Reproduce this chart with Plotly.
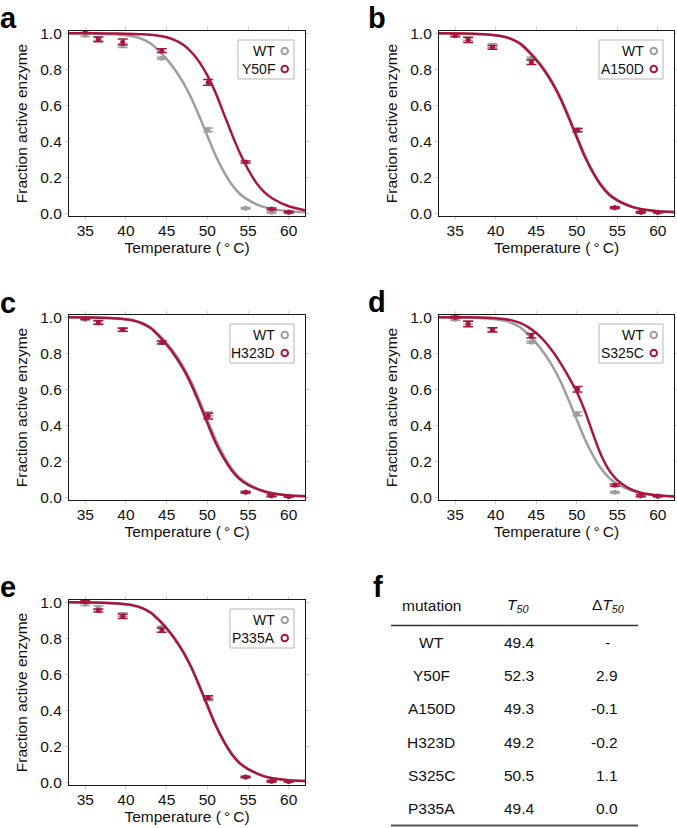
import plotly.graph_objects as go

# ---------------- data ----------------
temps = [35.0, 36.6, 39.6, 44.4, 50.1, 54.7, 57.9, 60.0]

wt_vals = [0.990, 0.970, 0.932, 0.862, 0.465, 0.031, 0.009, 0.006]
wt_err = [0.008, 0.010, 0.010, 0.006, 0.010, 0.004, 0.004, 0.003]

y50f_vals = [1.012, 0.967, 0.952, 0.904, 0.728, 0.287, 0.027, 0.010]
y50f_err = [0.008, 0.013, 0.016, 0.010, 0.016, 0.006, 0.005, 0.004]

a150d_vals = [0.987, 0.963, 0.922, 0.840, 0.463, 0.035, 0.009, 0.009]
a150d_err = [0.006, 0.014, 0.010, 0.012, 0.008, 0.004, 0.004, 0.003]

h323d_vals = [0.994, 0.972, 0.931, 0.861, 0.453, 0.031, 0.013, 0.007]
h323d_err = [0.004, 0.010, 0.008, 0.008, 0.016, 0.004, 0.006, 0.003]

s325c_vals = [1.000, 0.963, 0.931, 0.898, 0.602, 0.070, 0.013, 0.010]
s325c_err = [0.006, 0.015, 0.012, 0.012, 0.015, 0.006, 0.005, 0.003]

p335a_vals = [1.003, 0.955, 0.922, 0.846, 0.473, 0.033, 0.009, 0.008]
p335a_err = [0.006, 0.008, 0.012, 0.012, 0.010, 0.004, 0.004, 0.003]

# fitted curves
fit_t = [33, 36, 39, 41, 42, 43, 44, 45, 46, 47, 48, 49, 50, 51, 52, 53, 54, 55, 56, 57, 58, 60, 62]
wt_fit = [1.0, 0.999, 0.993, 0.982, 0.968, 0.945, 0.905, 0.857, 0.80, 0.73, 0.645, 0.542, 0.433, 0.325,
          0.235, 0.162, 0.11, 0.077, 0.054, 0.037, 0.026, 0.015, 0.010]
y50f_fit = [1.0, 1.0, 0.999, 0.997, 0.995, 0.992, 0.987, 0.978, 0.962, 0.938, 0.898, 0.842, 0.767, 0.672,
            0.558, 0.443, 0.337, 0.247, 0.173, 0.12, 0.085, 0.042, 0.020]
a150d_fit = [1.0, 0.999, 0.993, 0.981, 0.967, 0.943, 0.902, 0.852, 0.794, 0.723, 0.637, 0.533, 0.423, 0.316,
             0.228, 0.157, 0.106, 0.075, 0.053, 0.036, 0.025, 0.014, 0.010]
h323d_fit = [1.0, 0.999, 0.993, 0.981, 0.966, 0.941, 0.899, 0.848, 0.789, 0.717, 0.63, 0.525, 0.414, 0.307,
             0.221, 0.152, 0.102, 0.072, 0.051, 0.035, 0.024, 0.013, 0.009]
s325c_fit = [1.0, 1.0, 0.998, 0.991, 0.983, 0.969, 0.946, 0.913, 0.869, 0.813, 0.746, 0.670, 0.588, 0.482,
             0.355, 0.237, 0.152, 0.098, 0.064, 0.041, 0.027, 0.013, 0.007]
p335a_fit = [1.0, 0.999, 0.993, 0.982, 0.968, 0.944, 0.904, 0.855, 0.797, 0.727, 0.642, 0.538, 0.428, 0.32,
             0.231, 0.159, 0.108, 0.076, 0.054, 0.036, 0.025, 0.014, 0.010]

x_ticks = [35, 40, 45, 50, 55, 60]
y_ticks = [0.0, 0.2, 0.4, 0.6, 0.8, 1.0]

mutations = ["WT", "Y50F", "A150D", "H323D", "S325C", "P335A"]
t50 = ["49.4", "52.3", "49.3", "49.2", "50.5", "49.4"]
dt50 = ["-", "2.9", "-0.1", "-0.2", "1.1", "0.0"]

# ---------------- style ----------------
W, H = 677, 828
RED = "#A8163B"
GRAY = "#9E9E9E"
FONT = "Liberation Sans, Arial, sans-serif"


def px(x):
    return x / W


def py(y):
    return 1 - y / H


panels = [
    dict(letter="a", mut="Y50F", vals=y50f_vals, err=y50f_err, fit=y50f_fit, box=(69, 305, 31, 216), lx=-2, ly=0, legw=56),
    dict(letter="b", mut="A150D", vals=a150d_vals, err=a150d_err, fit=a150d_fit, box=(439, 674, 31, 216), lx=366, ly=0, legw=64),
    dict(letter="c", mut="H323D", vals=h323d_vals, err=h323d_err, fit=h323d_fit, box=(69, 305, 315, 500), lx=-2, ly=285, legw=64),
    dict(letter="d", mut="S325C", vals=s325c_vals, err=s325c_err, fit=s325c_fit, box=(439, 674, 315, 500), lx=366, ly=284, legw=64),
    dict(letter="e", mut="P335A", vals=p335a_vals, err=p335a_err, fit=p335a_fit, box=(69, 305, 600, 785), lx=-2, ly=569, legw=64),
]

fig = go.Figure()
annotations = []
shapes = []

for i, p in enumerate(panels):
    k = "" if i == 0 else str(i + 1)
    xa, ya = "x" + k, "y" + k
    x0, x1, y0, y1 = p["box"]

    # WT fit and points
    fig.add_trace(go.Scatter(x=fit_t, y=wt_fit, mode="lines", line=dict(color=GRAY, width=2.5, shape="spline", smoothing=0.8),
                             xaxis=xa, yaxis=ya, showlegend=False, hoverinfo="skip"))
    fig.add_trace(go.Scatter(x=temps, y=wt_vals, mode="markers", marker=dict(color=GRAY, size=5),
                             error_y=dict(type="data", array=wt_err, color=GRAY, thickness=1.5, width=5),
                             xaxis=xa, yaxis=ya, showlegend=False))
    # mutant fit and points
    fig.add_trace(go.Scatter(x=fit_t, y=p["fit"], mode="lines", line=dict(color=RED, width=2.5, shape="spline", smoothing=0.8),
                             xaxis=xa, yaxis=ya, showlegend=False, hoverinfo="skip"))
    fig.add_trace(go.Scatter(x=temps, y=p["vals"], mode="markers", marker=dict(color=RED, size=5),
                             error_y=dict(type="data", array=p["err"], color=RED, thickness=1.5, width=5),
                             xaxis=xa, yaxis=ya, showlegend=False))

    axis_common = dict(showline=True, linecolor="#1a1a1a", linewidth=1.2, mirror="ticks", automargin=False,
                       ticks="outside", ticklen=3, tickcolor="#cfcfcf", showgrid=False, zeroline=False,
                       tickfont=dict(family=FONT, size=15.5, color="#111"))
    fig.layout["xaxis" + k] = dict(domain=[px(x0), px(x1)], anchor=ya, range=[33, 62], tickvals=x_ticks,
                                   ticklabelstandoff=-3,
                                   title=dict(text="Temperature (\u2009\u00b0\u2009C)", font=dict(family=FONT, size=15.5, color="#111"), standoff=2),
                                   **axis_common)
    fig.layout["yaxis" + k] = dict(domain=[py(y1), py(y0)], anchor=xa, range=[-0.012, 1.013], tickvals=y_ticks,
                                   tickformat=".1f",
                                   title=dict(text="Fraction active enzyme", font=dict(family=FONT, size=15.5, color="#111"), standoff=8),
                                   **axis_common)

    # panel letter
    annotations.append(dict(text="<b>%s</b>" % p["letter"], x=px(p["lx"]), y=py(p["ly"]), xref="paper", yref="paper",
                            xanchor="left", yanchor="top", showarrow=False,
                            font=dict(family=FONT, size=29, color="#000")))

    # custom legend (text right, open circle after)
    bx1 = x1 - 11
    bx0 = bx1 - p["legw"]
    by0 = y0 + 9
    by1 = by0 + 39
    shapes.append(dict(type="rect", xref="paper", yref="paper", x0=px(bx0), x1=px(bx1), y0=py(by1), y1=py(by0),
                       line=dict(color="#b5b5b5", width=1), fillcolor="white", layer="above"))
    for j, (lab, col) in enumerate([("WT", GRAY), (p["mut"], RED)]):
        cy = by0 + 11 + j * 18
        annotations.append(dict(text=lab, x=px(bx1 - 17), y=py(cy), xref="paper", yref="paper",
                                xanchor="right", yanchor="middle", showarrow=False,
                                font=dict(family=FONT, size=14, color="#111")))
        shapes.append(dict(type="circle", xref="paper", yref="paper", x0=px(bx1 - 12.5), x1=px(bx1 - 6),
                           y0=py(cy + 3.25), y1=py(cy - 3.25), line=dict(color=col, width=2), layer="above"))

# ---------------- table (panel f) ----------------
annotations.append(dict(text="<b>f</b>", x=px(371), y=py(569), xref="paper", yref="paper", xanchor="left", yanchor="top",
                        showarrow=False, font=dict(family=FONT, size=29, color="#000")))
hdr_y = 605
col_x = [431, 518, 608]
headers = ["mutation", "<i>T</i><sub><i>50</i></sub>", "\u0394<i>T</i><sub><i>50</i></sub>"]
for cx, h in zip(col_x, headers):
    annotations.append(dict(text=h, x=px(cx), y=py(hdr_y), xref="paper", yref="paper", xanchor="center", yanchor="middle",
                            showarrow=False, font=dict(family=FONT, size=15.5, color="#111")))
shapes.append(dict(type="line", xref="paper", yref="paper", x0=px(391), x1=px(638), y0=py(625.5), y1=py(625.5),
                   line=dict(color="#333", width=1.3)))
shapes.append(dict(type="line", xref="paper", yref="paper", x0=px(391), x1=px(638), y0=py(825.5), y1=py(825.5),
                   line=dict(color="#555", width=2)))
for r, (m, t, d) in enumerate(zip(mutations, t50, dt50)):
    ry = 642.5 + r * 33.2
    annotations.append(dict(text=m, x=px(431), y=py(ry), xref="paper", yref="paper", xanchor="center", yanchor="middle",
                            showarrow=False, font=dict(family=FONT, size=15.5, color="#111")))
    annotations.append(dict(text=t, x=px(519), y=py(ry), xref="paper", yref="paper", xanchor="center", yanchor="middle",
                            showarrow=False, font=dict(family=FONT, size=15.5, color="#111")))
    if d == "-":
        annotations.append(dict(text=d, x=px(607), y=py(ry), xref="paper", yref="paper", xanchor="center", yanchor="middle",
                                showarrow=False, font=dict(family=FONT, size=15.5, color="#111")))
    else:
        annotations.append(dict(text=d, x=px(619.5), y=py(ry), xref="paper", yref="paper", xanchor="right", yanchor="middle",
                                showarrow=False, font=dict(family=FONT, size=15.5, color="#111")))

fig.update_layout(width=W, height=H, margin=dict(l=0, r=0, t=0, b=0, autoexpand=False), paper_bgcolor="white", plot_bgcolor="white",
                  annotations=annotations, shapes=shapes, showlegend=False, font=dict(family=FONT))

fig.write_html("out.html", config={"displayModeBar": False},
               post_script="document.body.style.margin='0';document.body.style.overflow='hidden';")
